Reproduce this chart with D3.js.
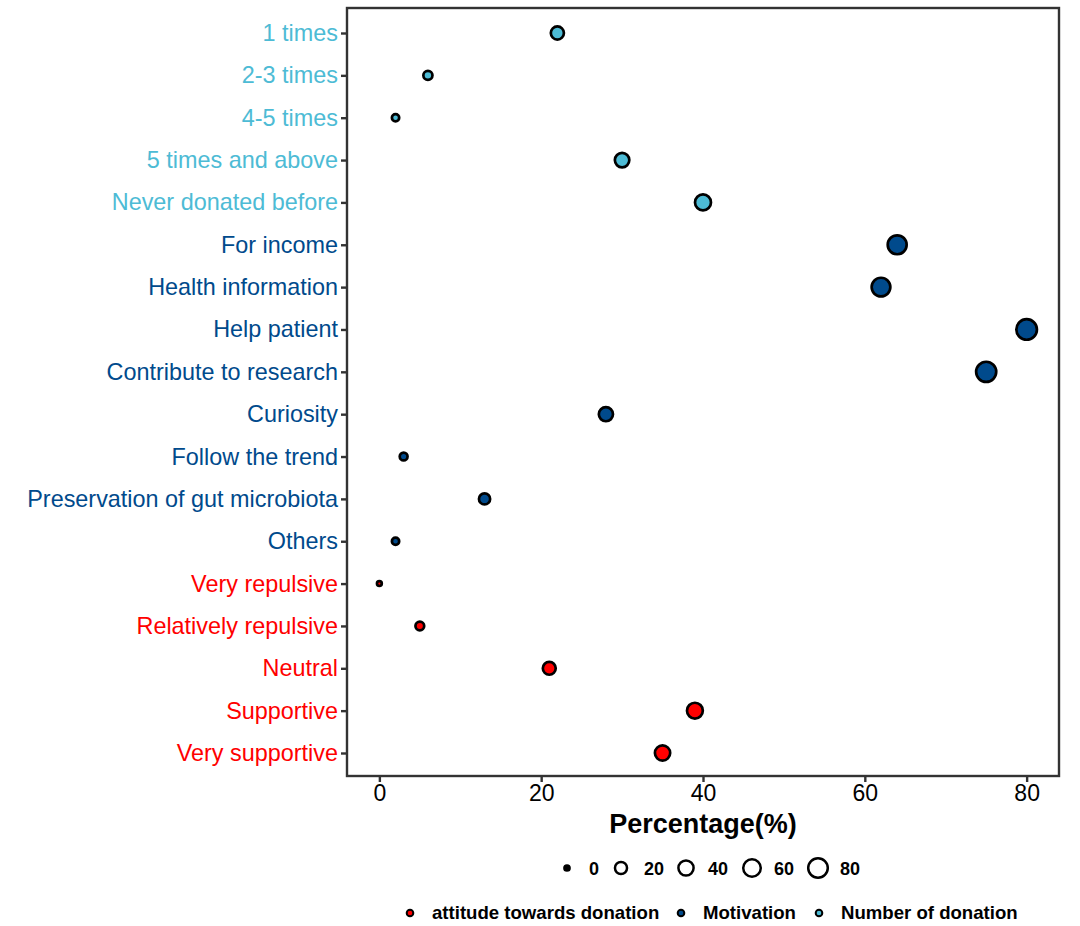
<!DOCTYPE html>
<html>
<head>
<meta charset="utf-8">
<script src="https://cdn.jsdelivr.net/npm/d3@7"></script>
<style>
  body { margin: 0; background: #fff; }
  text { font-family: "Liberation Sans", Arial, sans-serif; }
</style>
</head>
<body>
<script>
var categories = ["1 times", "2-3 times", "4-5 times", "5 times and above", "Never donated before",
  "For income", "Health information", "Help patient", "Contribute to research", "Curiosity",
  "Follow the trend", "Preservation of gut microbiota", "Others",
  "Very repulsive", "Relatively repulsive", "Neutral", "Supportive", "Very supportive"]
var values = [22, 6, 2, 30, 40, 64, 62, 80, 75, 28, 3, 13, 2, 0, 5, 21, 39, 35]
var groups = ["Number of donation", "Number of donation", "Number of donation", "Number of donation", "Number of donation",
  "Motivation", "Motivation", "Motivation", "Motivation", "Motivation", "Motivation", "Motivation", "Motivation",
  "attitude towards donation", "attitude towards donation", "attitude towards donation", "attitude towards donation", "attitude towards donation"]
var groupNames = ["attitude towards donation", "Motivation", "Number of donation"]
var groupColors = ["#FF0000", "#004A8C", "#4DBBD5"]
var xTicks = [0, 20, 40, 60, 80]
var sizeBreaks = [0, 20, 40, 60, 80]

var svg = d3.select("body").append("svg")
  .attr('width', 1080)
  .attr('height', 926)

var pLeft = 347, pRight = 1059, pTop = 8, pBottom = 776

var x = d3.scaleLinear().domain([-4, 84]).range([pLeft, pRight])
var y = d3.scalePoint().domain(categories).range([33, 753])
var color = d3.scaleOrdinal().domain(groupNames).range(groupColors)
var r = d3.scaleSqrt().domain([0, 80]).range([2.4, 10.3])

// points
var pts = svg.append("g")
pts.selectAll("circle")
  .data(values)
  .enter().append("circle")
  .attr('cx', function(d) { return x(d) })
  .attr('cy', function(d, i) { return y(categories[i]) })
  .attr('r', function(d) { return r(d) })
  .attr('fill', function(d, i) { return color(groups[i]) })
  .attr('stroke', '#000')
  .attr('stroke-width', 2.7)

// panel border
svg.append("rect")
  .attr('x', pLeft).attr('y', pTop)
  .attr('width', pRight - pLeft).attr('height', pBottom - pTop)
  .attr('fill', 'none')
  .attr('stroke', '#333')
  .attr('stroke-width', 2.4)

// y axis
var yAxis = svg.append("g")
  .attr('transform', 'translate(' + pLeft + ',0)')
  .call(d3.axisLeft(y).tickSize(6).tickPadding(3))
yAxis.select(".domain").remove()
yAxis.selectAll(".tick line").attr('stroke', '#333').attr('stroke-width', 2.4)
yAxis.selectAll(".tick text")
  .style('font-size', '23.4px')
  .attr('fill', function(d) { return color(groups[categories.indexOf(d)]) })

// x axis
var xAxis = svg.append("g")
  .attr('transform', 'translate(0,' + pBottom + ')')
  .call(d3.axisBottom(x).tickValues(xTicks).tickSize(6).tickPadding(3))
xAxis.select(".domain").remove()
xAxis.selectAll(".tick line").attr('stroke', '#333').attr('stroke-width', 2.4)
xAxis.selectAll(".tick text")
  .style('font-size', '23px')
  .attr('fill', '#000')

svg.append("text")
  .attr('x', 703)
  .attr('y', 833)
  .attr('text-anchor', 'middle')
  .style('font-size', '27px')
  .style('font-weight', 'bold')
  .text("Percentage(%)")

// size legend
var sizeX = [567, 621, 686, 752, 818]
var sl = svg.append("g")
sl.selectAll("circle")
  .data(sizeBreaks)
  .enter().append("circle")
  .attr('cx', function(d, i) { return sizeX[i] })
  .attr('cy', 868)
  .attr('r', function(d) { return d == 0 ? 2.6 : r(d) * 0.95 })
  .attr('fill', function(d) { return d == 0 ? '#000' : '#fff' })
  .attr('stroke', '#000')
  .attr('stroke-width', 2.5)
var sizeTextX = [589, 644, 708, 774, 840]
sl.selectAll("text")
  .data(sizeBreaks)
  .enter().append("text")
  .attr('x', function(d, i) { return sizeTextX[i] })
  .attr('y', 875)
  .style('font-size', '18px')
  .style('font-weight', 'bold')
  .text(function(d) { return d })

// colour legend
var colX = [410, 681, 819]
var cl = svg.append("g")
cl.selectAll("circle")
  .data(groupNames)
  .enter().append("circle")
  .attr('cx', function(d, i) { return colX[i] })
  .attr('cy', 913)
  .attr('r', 3.3)
  .attr('fill', function(d) { return color(d) })
  .attr('stroke', '#000')
  .attr('stroke-width', 2)
cl.selectAll("text")
  .data(groupNames)
  .enter().append("text")
  .attr('x', function(d, i) { return colX[i] + 22 })
  .attr('y', 919)
  .style('font-size', '18.6px')
  .style('font-weight', 'bold')
  .text(function(d) { return d })
</script>
</body>
</html>
